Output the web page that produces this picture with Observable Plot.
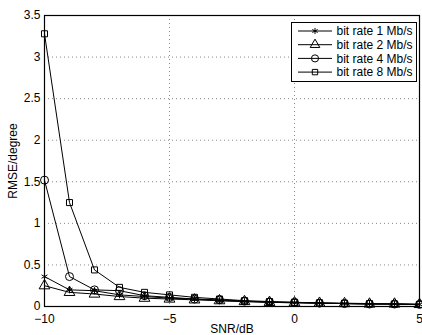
<!DOCTYPE html>
<html><head><meta charset="utf-8">
<script src="https://cdn.jsdelivr.net/npm/d3@7"></script>
<script src="https://cdn.jsdelivr.net/npm/@observablehq/plot@0.6"></script>
<style>
body{margin:0;background:#fff;}
#chart{position:relative;width:422px;height:335px;}
svg{font-family:"Liberation Sans",Arial,Helvetica,sans-serif;}
</style></head><body><div id="chart"></div>
<script>
const snr = [-10,-9,-8,-7,-6,-5,-4,-3,-2,-1,0,1,2,3,4,5];
const rate1 = [0.36,0.20,0.19,0.14,0.12,0.10,0.09,0.07,0.06,0.05,0.045,0.04,0.035,0.03,0.03,0.025];
const rate2 = [0.25,0.17,0.15,0.12,0.10,0.09,0.08,0.07,0.06,0.05,0.045,0.04,0.035,0.03,0.03,0.025];
const rate4 = [1.52,0.36,0.20,0.19,0.13,0.11,0.09,0.08,0.065,0.055,0.05,0.04,0.035,0.03,0.03,0.025];
const rate8 = [3.28,1.25,0.44,0.23,0.17,0.14,0.11,0.09,0.07,0.06,0.05,0.045,0.04,0.035,0.03,0.025];
const seriesNames = ["bit rate 1 Mb/s","bit rate 2 Mb/s","bit rate 4 Mb/s","bit rate 8 Mb/s"];
const seriesValues = [rate1, rate2, rate4, rate8];
const symbols = ["asterisk","triangle","circle","square"];
const markerR = [3.2,4,4,3.4];
const xTicks = [-10,-5,0,5];
const yTicks = [0,0.5,1,1.5,2,2.5,3,3.5];

const data = [];
seriesNames.forEach((name,i)=>snr.forEach((x,j)=>data.push({name, x, y: seriesValues[i][j]})));

const marks = [
  Plot.gridX(xTicks,{stroke:"#888",strokeOpacity:1,strokeDasharray:"1,3"}),
  Plot.gridY(yTicks,{stroke:"#888",strokeOpacity:1,strokeDasharray:"1,3"}),
  Plot.axisX(xTicks,{tickSize:0,tickPadding:8,fontSize:12,label:"SNR/dB",labelAnchor:"center",labelArrow:"none",labelOffset:26,tickFormat:d=>d<0?"\u2212"+(-d):String(d)}),
  Plot.axisY(yTicks,{tickSize:0,tickPadding:4,fontSize:12,label:"RMSE/degree",labelAnchor:"center",labelArrow:"none",labelOffset:36,tickFormat:d=>String(d)}),
];
seriesNames.forEach((name,i)=>{
  const d = data.filter(e=>e.name===name);
  marks.push(Plot.line(d,{x:"x",y:"y",stroke:"black",strokeWidth:1}));
  marks.push(Plot.dot(d,{x:"x",y:"y",symbol:()=>symbols[i],r:markerR[i],stroke:"black",fill:"none",strokeWidth:1}));
});
marks.push(Plot.frame({stroke:"black",strokeWidth:1.2}));

const plot = Plot.plot({
  width:422, height:335,
  marginLeft:44, marginRight:3, marginTop:15, marginBottom:29,
  x:{domain:[-10,5]},
  y:{domain:[0,3.5]},
  symbol:{type:"identity"},
  style:{fontFamily:'"Liberation Sans",Arial,sans-serif',fontSize:"12px",color:"black",background:"white"},
  marks
});
document.getElementById("chart").appendChild(plot);

// legend box
const svg = d3.select(plot);
const lg = svg.append("g").attr("text-anchor","start");
const lx = 291.5, ly = 22.5, lw = 125, lh = 59;
lg.append("rect").attr("x",lx).attr("y",ly).attr("width",lw).attr("height",lh).attr("fill","white").attr("stroke","black");
seriesNames.forEach((name,i)=>{
  const yy = ly + 8.5 + i*13.7;
  lg.append("line").attr("x1",lx+6.5).attr("x2",lx+40.5).attr("y1",yy).attr("y2",yy).attr("stroke","black");
  const sym = {asterisk:d3.symbolAsterisk,triangle:d3.symbolTriangle,circle:d3.symbolCircle,square:d3.symbolSquare}[symbols[i]];
  lg.append("path").attr("d",d3.symbol(sym, markerR[i]*markerR[i]*Math.PI*0.8)()).attr("transform",`translate(${lx+23.5},${yy})`).attr("fill","none").attr("stroke","black");
  lg.append("text").attr("x",lx+45).attr("y",yy).attr("dy","0.35em").attr("font-size",12).attr("text-anchor","start").text(name);
});
</script></body></html>
